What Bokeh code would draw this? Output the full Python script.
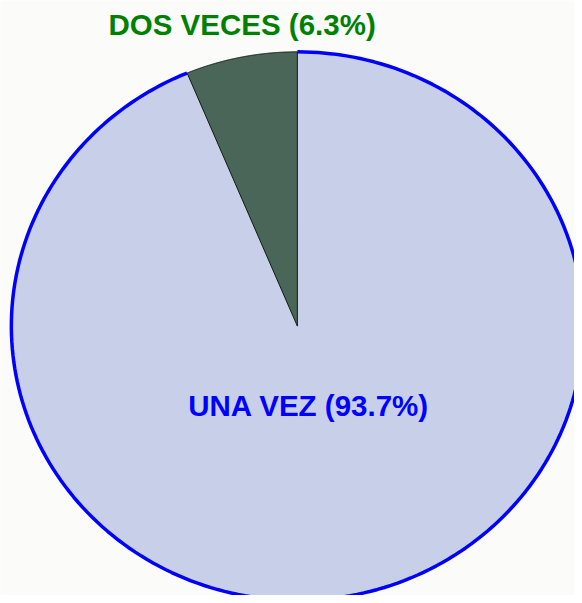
import numpy as np
from bokeh.plotting import figure
from bokeh.models import Range1d, ColumnDataSource
from bokeh.core.properties import value
from bokeh.embed import file_html
from bokeh.resources import INLINE

# ---- data ----
categories = ["DOS VECES", "UNA VEZ"]
percent = [6.3, 93.7]
label_colors = ["#008000", "#0000ff"]
fill_colors = ["#4a6658", "#c8cfe8"]

# ---- geometry (reference pixel coordinates) ----
CX, CY = 301.0, 330.0
RX, RY = 290.0, 278.0

p = figure(width=574, height=595, output_backend="svg", toolbar_location=None,
           x_range=Range1d(0, 582), y_range=Range1d(603, 0),
           min_border=0, background_fill_color="#fbfbf9", border_fill_color="#fbfbf9")
p.axis.visible = False
p.grid.visible = False
p.outline_line_color = None

total = sum(percent)
fracs = [v / total for v in percent]
starts = []
a = 90.0
for f in fracs:
    starts.append(a)
    a += f * 360.0

def arc_pts(a0, a1, n=240):
    t = np.radians(np.linspace(a0, a1, n))
    return CX + RX * np.cos(t), CY - RY * np.sin(t)

# big slice (fill + blue arc) first, small slice on top
for i in [1, 0]:
    a0 = starts[i]
    a1 = a0 + fracs[i] * 360.0
    xs, ys = arc_pts(a0, a1)
    px = np.concatenate([[CX], xs, [CX]])
    py = np.concatenate([[CY], ys, [CY]])
    if i == 1:
        p.patch(px, py, fill_color=fill_colors[i], line_color=None)
        p.line(xs, ys, line_color="#0000ff", line_width=3.5)
    else:
        p.patch(px, py, fill_color=fill_colors[i], line_color="#101810", line_width=1)

# labels
lx, ly, texts = [], [], []
for i, (c, v) in enumerate(zip(categories, percent)):
    mid = np.radians(starts[i] + fracs[i] * 180.0)
    texts.append(f"{c} ({v}%)")
    if i == 0:
        lx.append(CX + RX * np.cos(mid) + 1)
        ly.append(CY - RY * np.sin(mid) - 33)
    else:
        lx.append(CX + 0.29 * RX * np.cos(mid) - 5)
        ly.append(CY - 0.29 * RY * np.sin(mid) + 1)

src = ColumnDataSource(dict(x=lx, y=ly, t=texts, c=label_colors))
p.text(x="x", y="y", text="t", text_color="c", source=src,
       text_font=value("Liberation Sans"), text_font_style="bold",
       text_font_size="29.5px", text_align="center", text_baseline="alphabetic")

open("out.html", "w").write(file_html(p, INLINE))
